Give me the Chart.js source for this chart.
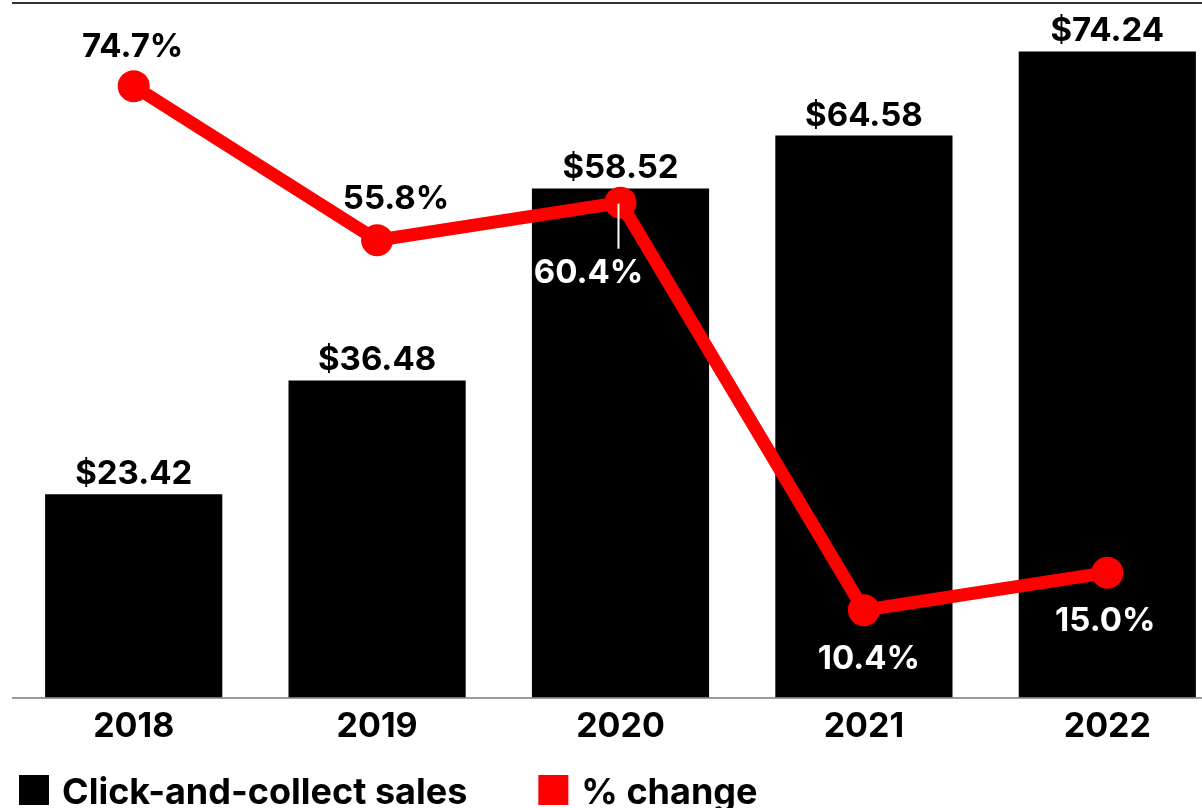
<!DOCTYPE html>
<html>
<head>
<meta charset="utf-8">
<script src="https://cdn.jsdelivr.net/npm/chart.js@4.4.1/dist/chart.umd.min.js"></script>
<style>
html,body{margin:0;padding:0;background:#fff;overflow:hidden}
#wrap{width:1232px;height:808px;position:relative}
</style>
</head>
<body>
<div id="wrap"><canvas id="c"></canvas></div>
<script>
// ---- data ----
const categories = ['2018', '2019', '2020', '2021', '2022'];
const salesValues = [23.42, 36.48, 58.52, 64.58, 74.24];
const changeValues = [74.7, 55.8, 60.4, 10.4, 15.0];
const seriesNames = ['Click-and-collect sales', '% change'];

// ---- label placement (style only) ----
const changeLabelStyle = [
  {dx: -1, dy: -29, color: '#000'},
  {dx: 19, dy: -31, color: '#000'},
  {dx: -32, dy: 80, color: '#fff', leader: true},
  {dx: 5, dy: 59, color: '#fff'},
  {dx: -2, dy: 58, color: '#fff'}
];

const FONT = 'Inter, "Liberation Sans", Arial, sans-serif';

const labelPlugin = {
  id: 'valueLabels',
  afterDatasetsDraw(chart) {
    const ctx = chart.ctx;
    const barMeta = chart.getDatasetMeta(0);
    const lineMeta = chart.getDatasetMeta(1);
    ctx.save();
    ctx.textAlign = 'center';
    ctx.textBaseline = 'alphabetic';
    ctx.font = 'bold 33px ' + FONT;
    ctx.fillStyle = '#000';
    barMeta.data.forEach((bar, i) => {
      const v = chart.data.datasets[0].data[i];
      ctx.fillText('$' + v.toFixed(2), bar.x, bar.y - 10);
    });
    lineMeta.data.forEach((pt, i) => {
      const v = chart.data.datasets[1].data[i];
      const s = changeLabelStyle[i];
      if (s.leader) {
        ctx.strokeStyle = '#fff';
        ctx.lineWidth = 2;
        ctx.beginPath();
        ctx.moveTo(pt.x - 2, pt.y + 1);
        ctx.lineTo(pt.x - 2, pt.y + 46);
        ctx.stroke();
      }
      ctx.fillStyle = s.color;
      ctx.fillText(v.toFixed(1) + '%', pt.x + s.dx, pt.y + s.dy);
    });
    ctx.restore();
  }
};

const legendPlugin = {
  id: 'customLegend',
  afterDraw(chart) {
    const ctx = chart.ctx;
    ctx.save();
    ctx.font = 'bold 36px ' + FONT;
    ctx.textBaseline = 'alphabetic';
    ctx.textAlign = 'left';
    let x = 19;
    const boxY = 775, box = 30, baseY = 804;
    chart.data.datasets.forEach((ds, i) => {
      ctx.fillStyle = ds.legendColor;
      ctx.fillRect(x, boxY, box, box);
      ctx.fillStyle = '#000';
      const tx = x + box + 13;
      ctx.fillText(ds.label, tx, baseY);
      x = tx + ctx.measureText(ds.label).width + 71;
    });
    ctx.restore();
  }
};

new Chart(document.getElementById('c'), {
  data: {
    labels: categories,
    datasets: [
      {
        type: 'bar',
        label: seriesNames[0],
        data: salesValues,
        backgroundColor: '#000000',
        legendColor: '#000000',
        barPercentage: 0.728,
        categoryPercentage: 1.0,
        yAxisID: 'y',
        order: 1
      },
      {
        type: 'line',
        label: seriesNames[1],
        data: changeValues,
        borderColor: '#ff0000',
        backgroundColor: '#ff0000',
        legendColor: '#ff0000',
        borderWidth: 13,
        pointRadius: 16,
        pointBorderWidth: 0,
        pointBackgroundColor: '#ff0000',
        tension: 0,
        clip: false,
        yAxisID: 'y2',
        order: 0
      }
    ]
  },
  options: {
    responsive: true,
    maintainAspectRatio: false,
    animation: false,
    devicePixelRatio: 1,
    layout: {autoPadding: false, padding: {left: 12, right: 3, top: 3, bottom: 61}},
    plugins: {legend: {display: false}, tooltip: {enabled: false}},
    scales: {
      x: {
        offset: true,
        grid: {display: false},
        border: {display: false},
        ticks: {color: '#000', font: {family: FONT, size: 34, weight: 'bold'}, padding: 0}
      },
      y: {
        min: 0,
        max: 79.8,
        afterBuildTicks: s => { s.ticks = [{value: s.min}, {value: s.max}]; },
        ticks: {display: false},
        border: {display: false},
        grid: {
          drawTicks: false,
          lineWidth: 2,
          color: c => (c.tick && c.tick.value === 0) ? '#9a9a9a' : '#333333'
        }
      },
      y2: {display: false, min: -0.4, max: 84.9}
    }
  },
  plugins: [labelPlugin, legendPlugin]
});
</script>
</body>
</html>
